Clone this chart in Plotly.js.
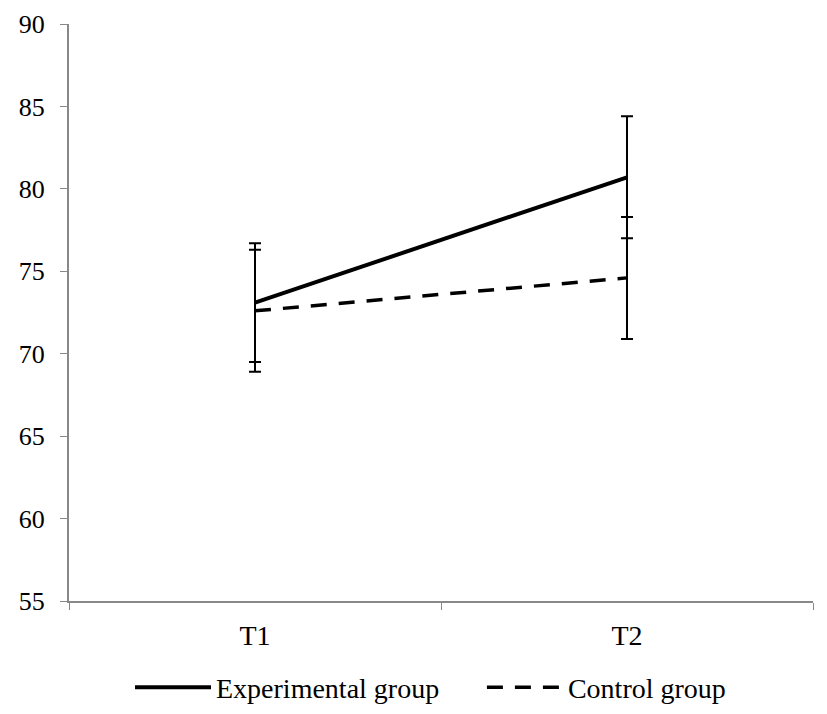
<!DOCTYPE html>
<html>
<head>
<meta charset="utf-8">
<script src="https://cdn.plot.ly/plotly-3.0.1.min.js"></script>
<style>
  body { margin: 0; background: #fff; }
  #chart { width: 827px; height: 714px; }
</style>
</head>
<body>
<div id="chart"></div>
<script>
// measurement times
var times = ['T1', 'T2'];

// group means and error bar sizes
var exp_means = [73.1, 80.7];
var exp_err = [3.6, 3.7];
var ctrl_means = [72.6, 74.6];
var ctrl_err = [3.7, 3.7];

var y_ticks = [55, 60, 65, 70, 75, 80, 85, 90];

var serif = 'Liberation Serif, Times New Roman, serif';

var data = [{
  name: 'Experimental group',
  x: times,
  y: exp_means,
  type: 'scatter',
  mode: 'lines',
  legend: 'legend',
  line: { color: '#000', width: 4 },
  error_y: { type: 'data', array: exp_err, visible: true, color: '#000', thickness: 2, width: 6 }
},
{
  name: 'Control group',
  x: times,
  y: ctrl_means,
  type: 'scatter',
  mode: 'lines',
  legend: 'legend2',
  line: { color: '#000', width: 3.5, dash: '16px,12px' },
  error_y: { type: 'data', array: ctrl_err, visible: true, color: '#000', thickness: 2, width: 6 }
}];

// two legends so each item can sit where the reference puts it
var legend_style = function (x) {
  return {
    orientation: 'h',
    x: x,
    xanchor: 'left',
    y: -0.15,
    yanchor: 'middle',
    bgcolor: 'rgba(0,0,0,0)',
    font: { family: serif, size: 28, color: '#000' },
    itemwidth: 76
  };
};

var layout = {
  width: 827,
  height: 714,
  margin: { l: 69, r: 14, t: 24, b: 113, autoexpand: false },
  paper_bgcolor: '#fff',
  plot_bgcolor: '#fff',
  font: { family: serif, color: '#000' },
  showlegend: true,
  legend: legend_style(0.082),
  legend2: legend_style(0.555),
  xaxis: {
    type: 'category',
    range: [-0.5, 1.5],
    tickson: 'boundaries',
    ticks: 'outside',
    ticklen: 7,
    tickcolor: '#888',
    showline: true,
    linecolor: '#888',
    linewidth: 2,
    showgrid: false,
    zeroline: false,
    ticklabelstandoff: 8,
    tickfont: { family: serif, size: 28, color: '#000' },
    fixedrange: true
  },
  yaxis: {
    range: [55, 90],
    tickvals: y_ticks,
    ticks: 'outside',
    ticklen: 7,
    tickcolor: '#888',
    showline: true,
    linecolor: '#888',
    linewidth: 2,
    showgrid: false,
    zeroline: false,
    ticklabelstandoff: 10,
    tickfont: { family: serif, size: 26, color: '#000' },
    fixedrange: true
  }
};

var options = {
  displayModeBar: false,
  staticPlot: true
};

Plotly.newPlot('chart', data, layout, options);
</script>
</body>
</html>
